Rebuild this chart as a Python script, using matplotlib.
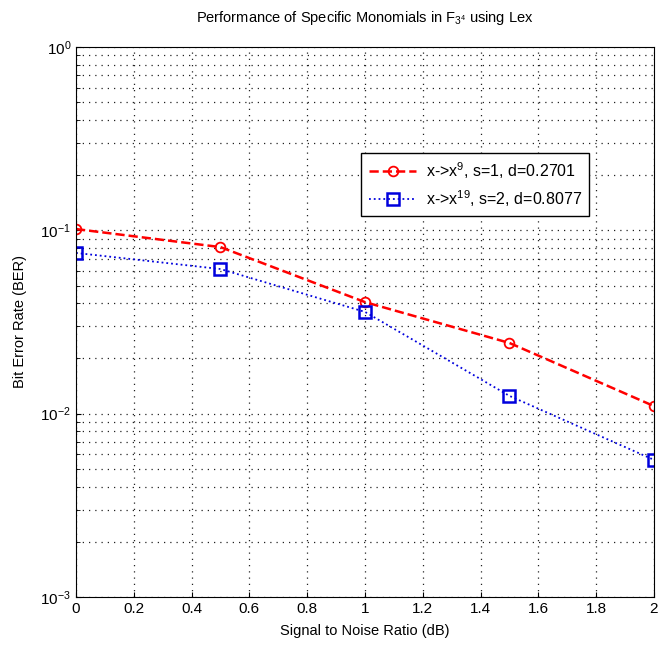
import matplotlib.pyplot as plt
import numpy as np

plt.rcParams['font.family'] = ['Liberation Sans', 'DejaVu Sans']
plt.rcParams['mathtext.fontset'] = 'custom'
plt.rcParams['mathtext.rm'] = 'Liberation Sans'
plt.rcParams['mathtext.it'] = 'Liberation Sans'

# dane
snr = [0, 0.5, 1, 1.5, 2]
ber_x9 = [0.1016, 0.081, 0.0406, 0.0243, 0.011]
ber_x19 = [0.0753, 0.0615, 0.0359, 0.0125, 0.0056]
xticks = [0, 0.2, 0.4, 0.6, 0.8, 1, 1.2, 1.4, 1.6, 1.8, 2]
xtick_labels = ['0', '0.2', '0.4', '0.6', '0.8', '1', '1.2', '1.4', '1.6', '1.8', '2']

fig = plt.figure(figsize=(6.59, 6.48), dpi=100)
ax = fig.add_axes([0.1153, 0.0787, 0.877, 0.8488])

ax.semilogy(snr, ber_x9, '--o', color='red', lw=1.8, ms=7, mfc='none', mew=1.3,
            label=r'x->x$^{9}$, s=1, d=0.2701')
ax.semilogy(snr, ber_x19, ':s', color='#0000dd', lw=1.3, ms=8, mfc='none', mew=1.8,
            label=r'x->x$^{19}$, s=2, d=0.8077')

ax.set_xlim(0, 2)
ax.set_ylim(1e-3, 1)
ax.set_xticks(xticks)
ax.set_xticklabels(xtick_labels)
ax.grid(True, which='major', ls=(0, (1, 4)), color='#222222', lw=0.9)
ax.grid(True, which='minor', axis='y', ls=(0, (1, 4)), color='#222222', lw=0.9)
ax.tick_params(which='both', direction='in', labelsize=11)
ax.tick_params(which='minor', length=3)

ax.set_xlabel('Signal to Noise Ratio (dB)', fontsize=10.5, labelpad=6)
ax.set_ylabel('Bit Error Rate (BER)', fontsize=10.5, labelpad=10)
ax.set_title(r'Performance of Specific Monomials in F$_{3^4}$ using Lex', fontsize=10.5, pad=18)

leg = ax.legend(loc='upper left', bbox_to_anchor=(0.48, 0.822), fontsize=11.5,
                fancybox=False, framealpha=1, edgecolor='black', handlelength=3,
                handletextpad=0.6, borderpad=0.45, labelspacing=0.45)
leg.get_frame().set_linewidth(1.0)

fig.savefig('out.png', dpi=100)
